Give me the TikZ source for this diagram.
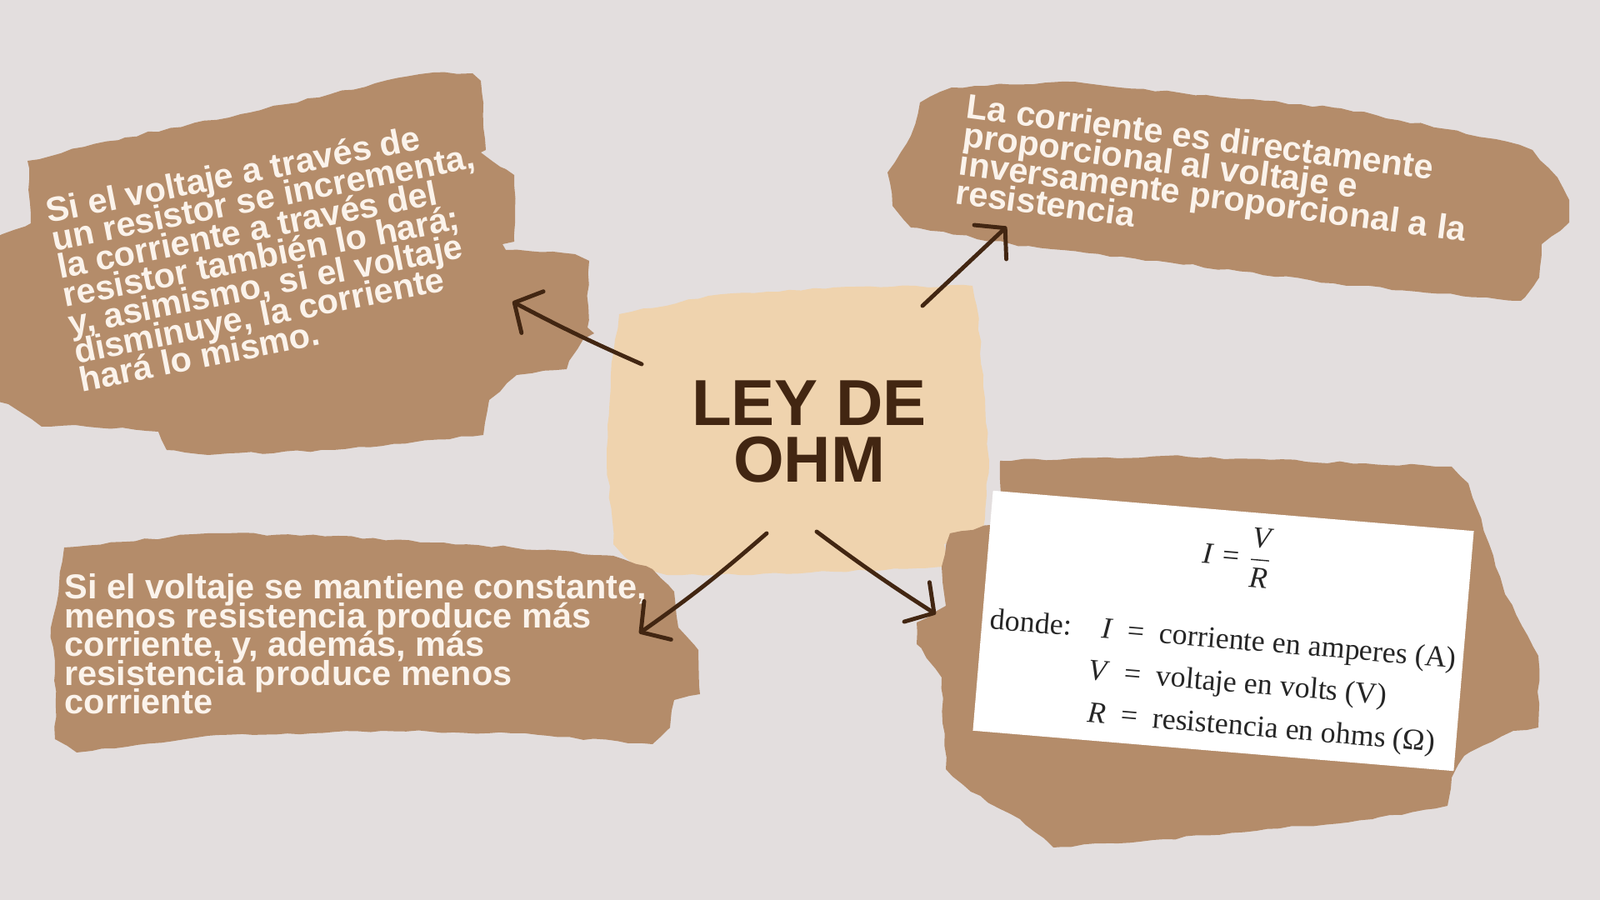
\documentclass[tikz,border=0pt]{standalone}
\usepackage{amsmath}
\usepackage{fontspec}
\setmainfont{Liberation Sans}
\newfontfamily\formulafont{Liberation Serif}
\usepackage{tikz}
\usetikzlibrary{arrows.meta,decorations.pathmorphing}
\usepackage{xcolor}
\definecolor{ohmbg}{RGB}{227,222,222}
\definecolor{ohmbrown}{RGB}{180,140,106}
\definecolor{ohmbeige}{RGB}{239,211,174}
\definecolor{ohmdark}{RGB}{66,38,18}
\definecolor{ohmcream}{RGB}{251,243,235}
\newcommand{\tightlines}{\lineskiplimit-30pt\relax}
\tikzstyle{brush} = [fill=ohmbrown, decorate, decoration={random steps, segment length=4pt, amplitude=0.45pt}]
\tikzstyle{paint} = [brush, fill=ohmbeige]
\tikzstyle{blobtext} = [align=left, inner sep=0pt, anchor=north west, text=ohmcream, font={\fontsize{11.8}{9.8}\selectfont\bfseries\tightlines}]
\tikzstyle{titletext} = [align=center, inner sep=0pt, text=ohmdark, font=\fontsize{22.2}{19.35}\selectfont\bfseries]
\tikzstyle{whitebox} = [rectangle, fill=white, minimum width=5.79cm, minimum height=2.89cm, inner sep=0pt]
\tikzstyle{formulatext} = [inner sep=0pt, text=black!85, font=\formulafont\fontsize{10.2}{14.5}\selectfont]
\tikzstyle{arrow} = [line width=1.4pt, line cap=round, color=ohmdark, -{Straight Barb[length=7pt, width=16pt, round]}]

\begin{document}
\begin{tikzpicture}
\fill[ohmbg] (0,0) rectangle (19.2,10.8);
\useasboundingbox (0,0) rectangle (19.2,10.8);

% Brush strokes
\fill[brush] (0.33,8.87) -- (1.50,9.15) -- (3.00,9.45) -- (4.50,9.80) -- (5.20,9.93) -- (5.67,9.92)
  -- (5.77,9.83) -- (5.83,9.00) -- (5.77,8.97) -- (6.07,8.77) -- (6.17,8.70) -- (6.17,7.90)
  -- (6.03,7.87) -- (6.07,7.80) -- (6.90,7.75) -- (7.07,7.67) -- (7.05,6.87) -- (7.13,6.80)
  -- (7.00,6.73) -- (6.83,6.47) -- (6.80,6.37) -- (6.20,6.30) -- (6.00,6.10) -- (5.87,6.00)
  -- (5.82,5.73) -- (5.80,5.58) -- (5.00,5.50) -- (4.00,5.40) -- (2.50,5.34) -- (2.00,5.40)
  -- (1.90,5.62) -- (0.90,5.70) -- (0.50,5.68) -- (0.10,5.95) -- (-0.10,6.00) -- (-0.10,7.93)
  -- (0.37,8.12) -- (0.37,8.23) -- cycle;
\fill[brush] (11.42,9.75) -- (12.74,9.82) -- (14.20,9.68) -- (16.09,9.50) -- (17.95,9.13) -- (18.39,9.00)
  -- (18.69,8.67) -- (18.83,8.40) -- (18.83,8.13) -- (18.50,7.87) -- (18.47,7.47) -- (18.25,7.19)
  -- (16.00,7.40) -- (13.89,7.67) -- (12.14,7.87) -- (10.93,8.07) -- (10.71,8.33) -- (10.65,8.73)
  -- (10.93,9.17) -- (11.04,9.57) -- cycle;
\fill[paint] (7.43,7.03) -- (8.50,7.25) -- (10.00,7.35) -- (11.67,7.37) -- (11.72,7.13) -- (11.80,6.30)
  -- (11.87,5.27) -- (11.80,4.47) -- (11.33,4.27) -- (11.40,4.00) -- (11.00,3.98) -- (10.00,3.94)
  -- (8.87,3.90) -- (8.00,3.90) -- (7.60,4.03) -- (7.36,4.27) -- (7.28,5.27) -- (7.33,6.30) -- cycle;
\fill[brush] (0.77,4.23) -- (2.49,4.40) -- (4.06,4.37) -- (6.15,4.23) -- (7.36,4.13) -- (7.83,3.97)
  -- (8.09,3.70) -- (8.14,3.27) -- (8.38,3.00) -- (8.40,2.47) -- (8.09,2.40) -- (8.04,2.07)
  -- (7.83,1.87) -- (6.15,2.00) -- (4.58,2.03) -- (2.49,1.97) -- (0.92,1.77) -- (0.66,1.93)
  -- (0.66,2.73) -- (0.61,3.27) -- (0.71,3.80) -- cycle;
\fill[brush] (12.00,5.27) -- (13.98,5.33) -- (17.42,5.20) -- (17.62,5.00) -- (17.67,4.83) -- (17.87,4.27)
  -- (18.06,3.67) -- (18.46,2.93) -- (18.46,2.07) -- (18.16,2.03) -- (17.57,1.73) -- (17.42,1.47)
  -- (17.37,1.13) -- (16.47,0.97) -- (13.98,0.73) -- (12.64,0.63) -- (12.24,0.97) -- (11.65,1.30)
  -- (11.35,1.57) -- (11.30,2.67) -- (11.00,3.07) -- (11.00,3.33) -- (11.35,3.53) -- (11.30,4.00)
  -- (11.40,4.40) -- (12.04,4.53) -- cycle;

% Title
\node[titletext] (ohm) at (9.71,5.62) {LEY DE\\OHM};

% Texts
\node[blobtext, rotate=11.2] (ohmup) at (0.52,8.43) {Si el voltaje a través de\\un resistor se incrementa,\\la corriente a través del\\resistor también lo hará;\\y, asimismo, si el voltaje\\disminuye, la corriente\\hará lo mismo.};
\node[blobtext, rotate=-7.5] (ohmprop) at (11.62,9.69) {La corriente es directamente\\proporcional al voltaje e\\inversamente proporcional a la\\resistencia};
\node[blobtext] (ohmconst) at (0.77,3.92) {Si el voltaje se mantiene constante,\\menos resistencia produce más\\corriente, y, además, más\\resistencia produce menos\\corriente};

% Formula card
\node[whitebox, rotate=-4.8] (formula) at (14.68,3.23) {};
\begin{scope}[shift={(formula.center)}, rotate=-4.8, transform shape]
\node[formulatext] (frac) at (0.10,0.91) {\textit{I}\;=\;$\dfrac{\textit{V}}{\textit{R}}$};
\node[formulatext, anchor=base west] (legend) at (-2.80,-0.21) {\begin{tabular}[t]{@{}l@{\hspace{7pt}}r@{\enspace=\enspace}l@{}}
donde: & \textit{I} & corriente en amperes (A)\\
 & \textit{V} & voltaje en volts (V)\\
 & \textit{R} & resistencia en ohms (Ω)
\end{tabular}};
\end{scope}

% Arrows
\coordinate (ohm-w) at (7.70,6.43);
\coordinate (ohm-ne) at (11.07,7.13);
\coordinate (ohm-sw) at (9.20,4.40);
\coordinate (ohm-se) at (9.80,4.42);
\coordinate (up-in) at (6.15,7.18);
\coordinate (prop-in) at (12.08,8.08);
\coordinate (const-in) at (7.67,3.20);
\coordinate (formula-in) at (11.23,3.43);
\draw[arrow] (ohm-w) to[bend left=2] (up-in);
\draw[arrow] (ohm-ne) -- (prop-in);
\draw[arrow] (ohm-sw) to[bend left=3] (const-in);
\draw[arrow] (ohm-se) to[bend right=2] (formula-in);
\end{tikzpicture}
\end{document}
